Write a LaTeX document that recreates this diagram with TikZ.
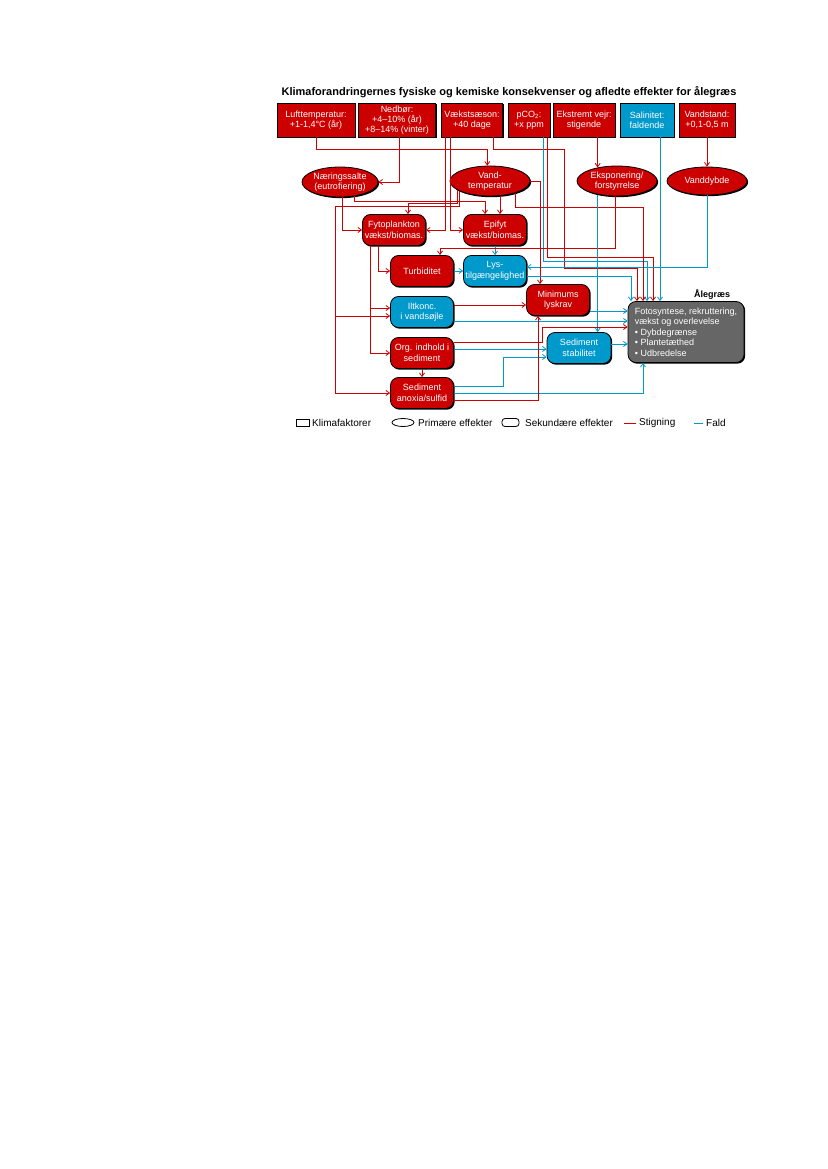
\documentclass[tikz,border=0pt]{standalone}
\usepackage{fontspec}
\setmainfont{Liberation Sans}
\usetikzlibrary{arrows.meta, shapes.geometric, shadows}
\definecolor{stigline}{HTML}{CC0000}
\definecolor{faldline}{HTML}{0099CC}
\definecolor{stigfill}{HTML}{CC0000}
\definecolor{faldfill}{HTML}{0099CC}
\definecolor{aalfill}{HTML}{666666}
\tikzset{
  klima/.style = {rectangle, draw=black, line width=0.8pt, fill=stigfill, text=white,
                  align=center, font=\fontsize{9}{10}\selectfont, minimum height=34pt, inner sep=1pt,
                  drop shadow={shadow xshift=1.2pt, shadow yshift=-1.2pt, fill=black, opacity=1}},
  prim/.style  = {ellipse, draw=black, line width=0.8pt, fill=stigfill, text=white,
                  align=center, font=\fontsize{9}{10.5}\selectfont, minimum width=80pt, minimum height=30pt, inner sep=0pt,
                  drop shadow={shadow xshift=1.2pt, shadow yshift=-1.2pt, fill=black, opacity=1}},
  sek/.style   = {rectangle, rounded corners=8pt, draw=black, line width=0.8pt, fill=stigfill, text=white,
                  align=center, font=\fontsize{9}{10.5}\selectfont, minimum width=63pt, minimum height=31pt, inner sep=1pt,
                  drop shadow={shadow xshift=1.2pt, shadow yshift=-1.2pt, fill=black, opacity=1}},
  lgd/.style   = {anchor=west, inner sep=0pt, font=\fontsize{10}{11}\selectfont},
  stig/.style  = {draw=stigline, line width=0.8pt, -{Straight Barb[length=3.5pt, width=5pt]}},
  fald/.style  = {draw=faldline, line width=0.8pt, -{Straight Barb[length=3.5pt, width=5pt]}},
}
\begin{document}
\begin{tikzpicture}[x=1pt, y=-1pt]
	\useasboundingbox[fill=white] (0,0) rectangle (827,1169);
	\node[font=\fontsize{11}{12}\selectfont\bfseries] (titel) at (509,92) {Klimaforandringernes fysiske og kemiske konsekvenser og afledte effekter for ålegræs};
	\node[klima, minimum width=78pt] (luft) at (316,120) {Lufttemperatur:\\+1-1,4°C (år)};
	\node[klima, minimum width=77pt] (nedb) at (397,120) {Nedbør:\\+4--10\% (år)\\+8--14\% (vinter)};
	\node[klima, minimum width=61pt] (vaekst) at (472,120) {Vækstsæson:\\+40 dage};
	\node[klima, minimum width=42pt] (pco) at (529,120) {pCO\textsubscript{2}:\\+x ppm};
	\node[klima, minimum width=62pt] (ekstr) at (584,120) {Ekstremt vejr:\\stigende};
	\node[klima, minimum width=54pt, fill=faldfill] (salin) at (647,120) {Salinitet:\\faldende};
	\node[klima, minimum width=56pt] (vstand) at (707,120) {Vandstand:\\+0,1-0,5 m};
	\node[prim, minimum width=76pt] (naering) at (340,182) {Næringssalte\\(eutrofiering)};
	\node[prim] (vandtemp) at (490,181) {Vand-\\temperatur};
	\node[prim] (eksp) at (617,181) {Eksponering/\\forstyrrelse};
	\node[prim, minimum height=28pt] (vanddybde) at (707,181) {Vanddybde};
	\node[sek] (fyto) at (394,230) {Fytoplankton\\vækst/biomas.};
	\node[sek] (epifyt) at (495,230) {Epifyt\\vækst/biomas.};
	\node[sek] (turb) at (422,271) {Turbiditet};
	\node[sek, fill=faldfill] (lys) at (495,271) {Lys-\\tilgængelighed};
	\node[sek] (minlys) at (558,300) {Minimums\\lyskrav};
	\node[sek, fill=faldfill] (ilt) at (422,312) {Iltkonc.\\i vandsøjle};
	\node[sek] (org) at (422,353) {Org. indhold i\\sediment};
	\node[sek] (anox) at (422,393) {Sediment\\anoxia/sulfid};
	\node[sek, fill=faldfill, minimum width=64pt] (sedstab) at (579,348) {Sediment\\stabilitet};
	\node[sek, fill=aalfill, minimum width=116pt, minimum height=61pt, align=left] (aal) at (686,332) {Fotosyntese, rekruttering,\\vækst og overlevelse\\• Dybdegrænse\\• Plantetæthed\\• Udbredelse};
	\node[font=\fontsize{9}{10}\selectfont\bfseries] (aaltitel) at (712,294) {Ålegræs};
	\foreach \a/\b in {vstand/vanddybde, org/anox}{\draw[stig] (\a) -- (\b);}
	\foreach \a/\b in {turb/lys, epifyt/lys}{\draw[fald] (\a) -- (\b);}
	\draw[stig] (luft.south) -- ++(0,12) -| (vandtemp.100);
	\draw[stig] ([xshift=2pt]nedb.south) |- (naering.east);
	\draw[stig] ([xshift=-27pt]vaekst.south) |- (fyto.east);
	\draw[stig] ([xshift=-22pt]vaekst.south) |- (epifyt.west);
	\draw[stig] ([xshift=21pt]vaekst.south) |- (564,149) |- (637,268) -- ([xshift=-49pt]aal.north);
	\draw[fald] ([xshift=14pt]pco.south) |- (647,261) -- ([xshift=-39pt]aal.north);
	\draw[stig] ([xshift=18pt]pco.south) |- (653,257) -- ([xshift=-33pt]aal.north);
	\draw[stig] (eksp.145 |- ekstr.south) -- (eksp.145);
	\draw[fald] ([xshift=13pt]salin.south) -- ([xshift=-26pt]aal.north);
	\draw[fald] (vanddybde.south) |- ([yshift=4pt]lys.east);
	\draw[stig] ([xshift=2pt]naering.south) |- (fyto.west);
	\draw[stig] (naering.-45) |- (485,201) -- ([xshift=-10pt]epifyt.north);
	\draw[stig] ([xshift=10pt]vandtemp.south) -- ([xshift=5pt]epifyt.north);
	\draw[stig] (vandtemp.196) |- (408,203) -- ([xshift=14pt]fyto.north);
	\draw[stig] (vandtemp.198) |- (335,206) |- ([yshift=-4pt]ilt.west);
	\draw[stig] (vandtemp.198) |- (335,206) |- (anox.west);
	\draw[stig] (vandtemp.-25) |- (643,207) -- ([xshift=-43pt]aal.north);
	\draw[stig] (vandtemp.east) -| ([xshift=-18pt]minlys.north);
	\draw[stig] ([xshift=-2pt]eksp.south) |- (440,248) -- ([xshift=18pt]turb.north);
	\draw[fald] (eksp.215) -- (eksp.215 |- sedstab.north);
	\draw[stig] ([xshift=-16pt]fyto.south) |- (turb.west);
	\draw[stig] ([xshift=-24pt]fyto.south) |- ([yshift=4pt]ilt.west);
	\draw[stig] ([xshift=-24pt]fyto.south) |- (org.west);
	\draw[fald] ([yshift=-5pt]lys.east) -| ([xshift=-55pt]aal.north);
	\draw[stig] ([yshift=7pt]ilt.east) -- ([yshift=-5pt]minlys.west);
	\draw[fald] ([yshift=-9pt]ilt.east) -- ([yshift=11pt]aal.west);
	\draw[fald] ([yshift=-11pt]minlys.east) -- ([yshift=21pt]aal.west);
	\draw[stig] ([yshift=11pt]org.east) -| (542,327) -- ([yshift=5pt]aal.west);
	\draw[fald] ([yshift=4pt]org.east) -- ([yshift=-1pt]sedstab.west);
	\draw[fald] ([yshift=7pt]anox.east) -| (503,357) -- ([yshift=-9pt]sedstab.west);
	\draw[fald] (anox.east) -| ([xshift=-43pt]aal.south);
	\draw[stig] ([yshift=-7pt]anox.east) -| ([xshift=-20pt]minlys.south);
	\draw[fald] ([yshift=4pt]sedstab.east) -- ([yshift=-12pt]aal.west);
	\node[draw=black, line width=0.6pt, minimum width=13pt, minimum height=7pt, inner sep=0pt] (lklima) at (302.5,422.5) {};
	\node[lgd] (lklimatxt) at (312,423) {Klimafaktorer};
	\node[ellipse, draw=black, line width=0.8pt, minimum width=22pt, minimum height=8pt, inner sep=0pt] (lprim) at (403,422.5) {};
	\node[lgd] (lprimtxt) at (418,423) {Primære effekter};
	\node[rectangle, rounded corners=3pt, draw=black, line width=0.8pt, minimum width=17pt, minimum height=8pt, inner sep=0pt] (lsek) at (510.5,422.5) {};
	\node[lgd] (lsektxt) at (525,423) {Sekundære effekter};
	\draw[stigline, line width=0.8pt] (624,423) -- (636,423);
	\node[lgd] (lstigtxt) at (639,423) {Stigning};
	\draw[faldline, line width=0.8pt] (694,423) -- (703,423);
	\node[lgd] (lfaldtxt) at (706,423) {Fald};
\end{tikzpicture}
\end{document}
